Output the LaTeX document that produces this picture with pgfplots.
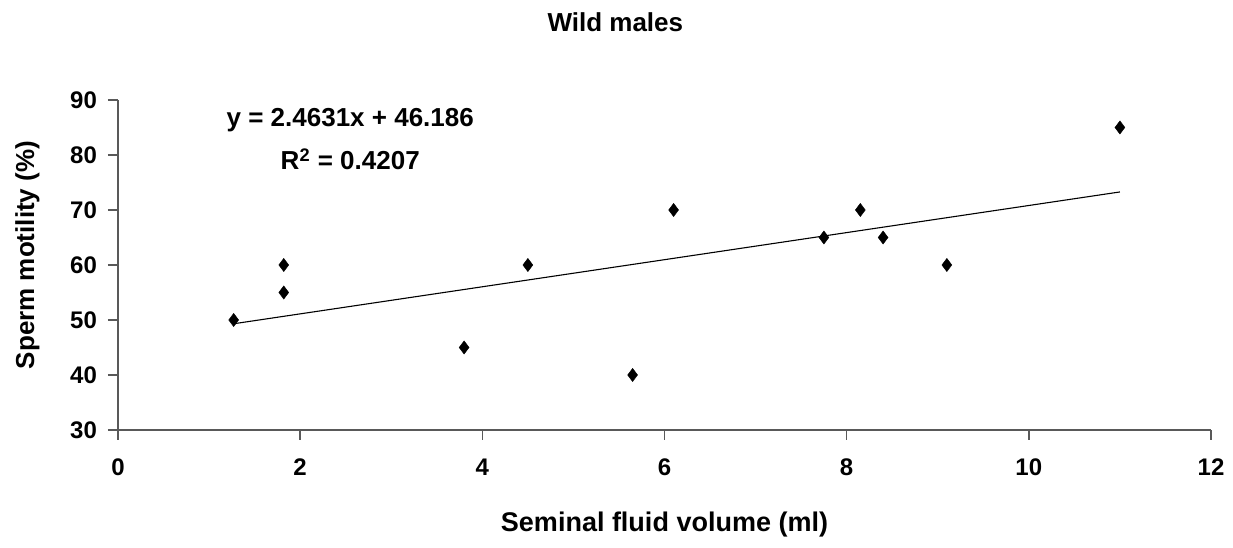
\documentclass[border=0pt]{standalone}
\usepackage{fontspec}
\setmainfont{Liberation Sans}
\usepackage{pgfplots}
\pgfplotsset{compat=1.18}
\begin{document}
\begin{tikzpicture}
\begin{axis}[
  scale only axis,
  width=546.5pt, height=165pt,
  xmin=0, xmax=12, ymin=30, ymax=90,
  xtick={0,2,...,12}, ytick={30,40,...,90},
  axis x line=bottom, axis y line=left,
  axis line style={-, draw=black!65, line width=0.9pt},
  tick style={draw=black!65, line width=0.8pt},
  tick align=outside, major tick length=5pt,
  /pgf/number format/assume math mode=true,
  ticklabel style={font=\bfseries\fontsize{12}{14}\selectfont},
  xticklabel style={yshift=-6pt},
  yticklabel style={xshift=-2pt},
  title={Wild males},
  title style={at={(0.455,1.2)}, anchor=center, font=\bfseries\fontsize{13}{15}\selectfont},
  xlabel={Seminal fluid volume (ml)},
  xlabel style={at={(0.5,-0.285)}, anchor=center, font=\bfseries\fontsize{13.5}{15}\selectfont},
  ylabel={Sperm motility (\%)},
  ylabel style={at={(-0.083,0.53)}, anchor=center, font=\bfseries\fontsize{13}{15}\selectfont},
  clip=false,
]
\addplot[only marks, mark=diamond*, mark size=3.3pt, mark options={fill=black, draw=black, line width=0.2pt}] coordinates {
 (1.27,50) (1.82,60) (1.82,55) (3.8,45) (4.5,60) (5.65,40)
 (6.1,70) (7.75,65) (8.15,70) (8.4,65) (9.1,60) (11,85)
};
\addplot[black, line width=0.55pt] coordinates {(1.27,49.314) (11,73.280)};
\node[font=\bfseries\fontsize{13}{15}\selectfont] at (axis cs:2.55,86.4) {y = 2.4631x + 46.186};
\node[font=\bfseries\fontsize{13}{15}\selectfont] at (axis cs:2.55,79.2) {R\textsuperscript{2} = 0.4207};
\end{axis}
\pgfresetboundingbox
\useasboundingbox ([shift={(-59pt,-59pt)}]current axis.south west) rectangle ([shift={(11pt,50pt)}]current axis.north east);
\end{tikzpicture}
\end{document}
